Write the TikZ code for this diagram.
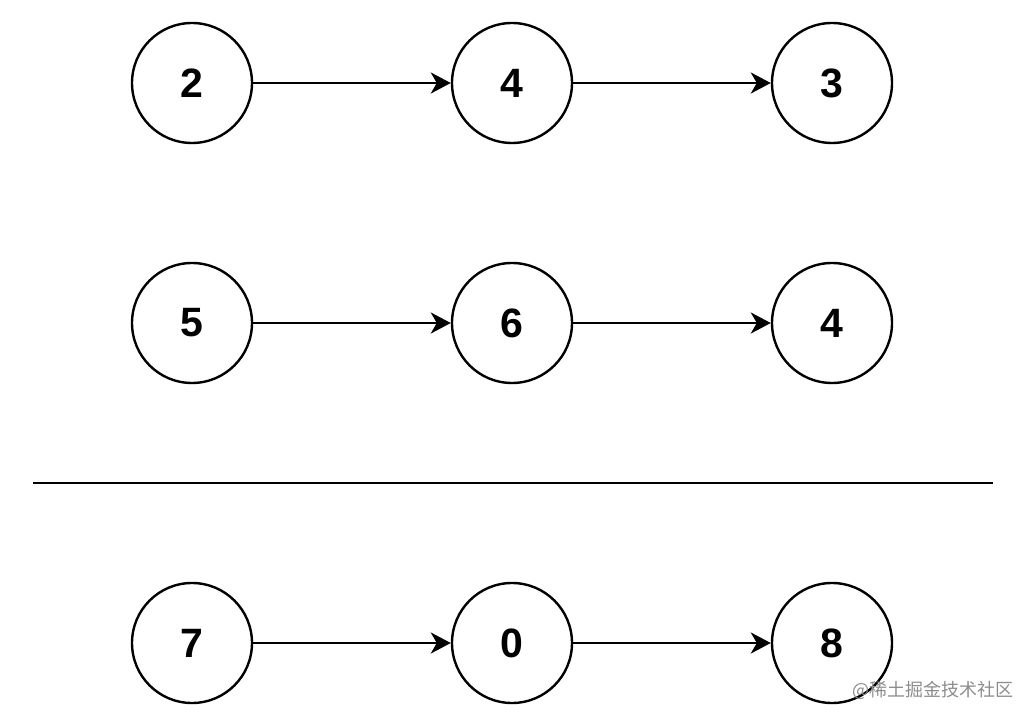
\documentclass[tikz,border=0pt]{standalone}
\usepackage{fontspec}
\setmainfont{Liberation Sans}
\newfontfamily\cjk{Noto Sans CJK SC}
\usetikzlibrary{arrows.meta}

\begin{document}
\begin{tikzpicture}[x=1pt,y=-1pt,
    digit/.style={draw,circle,line width=2.4pt,minimum size=120pt,inner sep=0pt,
      font=\bfseries\fontsize{41}{41}\selectfont},
    link/.style={line width=2.4pt,-{Stealth[length=20pt,width=21pt,inset=6pt]}}]

  \useasboundingbox (0,0) rectangle (1034,722);

  %determining the space between each column
  \def\spaceColums{320}

  %Rows: three digits and the height of the row
  \foreach \a/\b/\c/\ypos [count=\y from 0] in {2/4/3/83,5/6/4/323,7/0/8/643}
    {\node[digit] (0\y) at (192,\ypos) {\a};
     \node[digit] (1\y) at (192+\spaceColums,\ypos) {\b};
     \node[digit] (2\y) at (192+2*\spaceColums,\ypos) {\c};
     \draw [link] (0\y) -- (1\y);
     \draw [link] (1\y) -- (2\y);}

  % Sum line
  \coordinate (lineL) at (33,483);
  \coordinate (lineR) at (993,483);
  \draw [line width=2.4pt] (lineL) -- (lineR);

  % Watermark
  \node[text=black!45,font=\cjk\fontsize{18}{18}\selectfont] (mark) at (933,690) {@稀土掘金技术社区};

\end{tikzpicture}
\end{document}
